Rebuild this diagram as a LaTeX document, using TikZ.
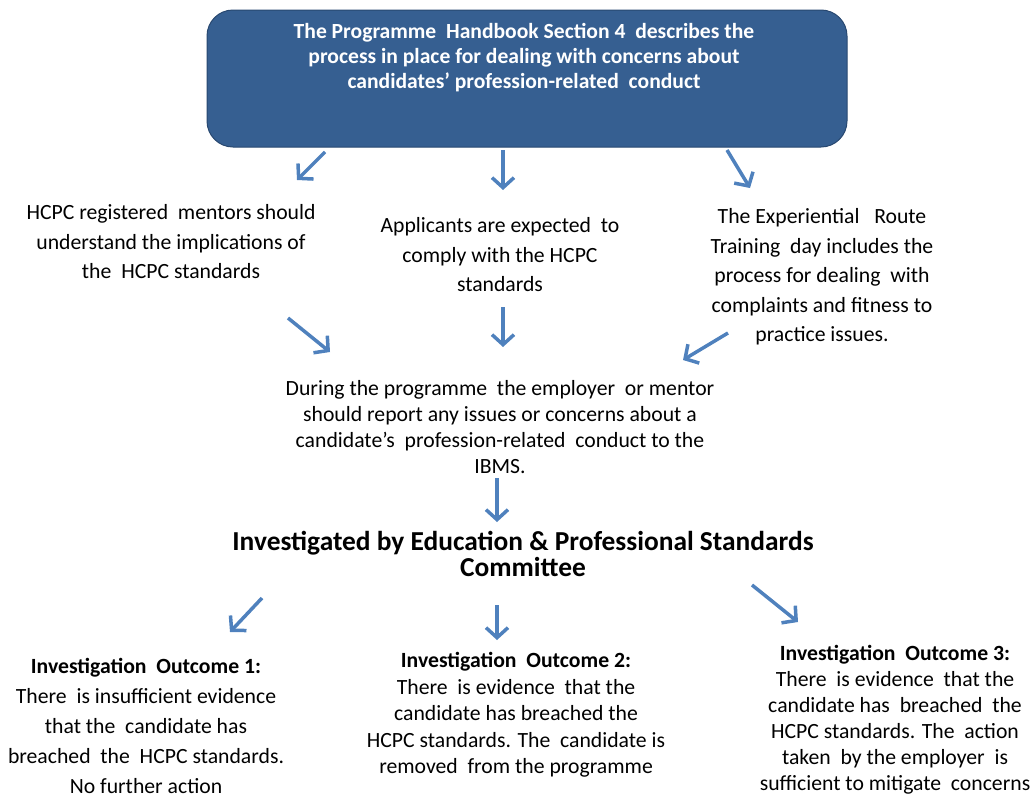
\documentclass[tikz,border=0pt]{standalone}
\usepackage{fontspec}
\setmainfont{Carlito}
\usetikzlibrary{arrows.meta}
\definecolor{boxblue}{RGB}{54,95,145}
\definecolor{boxedge}{RGB}{40,72,112}
\definecolor{arrblue}{RGB}{79,129,189}
\tikzset{
  topbox/.style={draw=boxedge, line width=1pt, fill=boxblue, rounded corners=26pt, minimum width=640pt, minimum height=137pt, inner sep=0pt},
  boxtext/.style={align=center, inner sep=0pt, text=white, font=\fontsize{21.6}{25}\selectfont\bfseries},
  bodytext/.style={align=center, inner sep=0pt, font=\fontsize{21.7}{29.5}\selectfont},
  midtext/.style={align=center, inner sep=0pt, font=\fontsize{21.7}{26}\selectfont},
  headtext/.style={align=center, inner sep=0pt, font=\fontsize{27.4}{26}\selectfont\bfseries},
  flowarrow/.style={draw=arrblue, line width=3.5pt, -{Straight Barb[length=10pt,width=22pt,line width=3.5pt]}},
}
\begin{document}
\begin{tikzpicture}[x=1pt,y=-1pt]
\useasboundingbox (0,0) rectangle (1034,798);
\node[topbox] (top) at (527,78.5) {};
\node[boxtext] (toptext) at (524,58) {The Programme\ \ Handbook Section 4\ \ describes the\\process in place for dealing with concerns about\\candidates' profession-related\ \ conduct};

\node[bodytext] (mentors) at (171,242) {HCPC registered\ \ mentors should\\understand the implications of\\the\ \ HCPC standards};
\node[bodytext] (applicants) at (500,255) {Applicants are expected\ \ to\\comply with the HCPC\\standards};
\node[bodytext] (training) at (822,277) {The Experiential\ \ \ Route\\Training\ \ day includes the\\process for dealing\ \ with\\complaints and fitness to\\practice issues.};

\node[midtext] (during) at (500,427) {During the programme\ \ the employer\ \ or mentor\\should report any issues or concerns about a\\candidate's\ \ profession-related\ \ conduct to the\\IBMS.};

\node[headtext] (committee) at (523,554) {Investigated by Education \& Professional Standards\\Committee};

\node[align=center, inner sep=0pt, font=\fontsize{21.7}{30}\selectfont] (out1) at (146,726) {\textbf{Investigation\ \ Outcome 1:}\\There\ \ is insufficient evidence\\that the\ \ candidate has\\breached\ \ the\ \ HCPC standards.\\No further action};
\node[midtext, font=\fontsize{21.7}{26.5}\selectfont] (out2) at (516,715) {\textbf{Investigation\ \ Outcome 2:}\\There\ \ is evidence\ \ that the\\candidate has breached the\\HCPC standards. The\ \ candidate is\\removed\ \ from the programme};
\node[midtext] (out3) at (895,720) {\textbf{Investigation\ \ Outcome 3:}\\There\ \ is evidence\ \ that the\\candidate has\ \ breached\ \ the\\HCPC standards. The\ \ action\\taken\ \ by the employer\ \ is\\sufficient to mitigate\ \ concerns};

% arrow end points
\coordinate (a1s) at (325,152); \coordinate (a1e) at (297,180);
\coordinate (a2s) at (503,150); \coordinate (a2e) at (503,190);
\coordinate (a3s) at (727,150); \coordinate (a3e) at (750,188);
\coordinate (b1s) at (288,318); \coordinate (b1e) at (330,352);
\coordinate (b2s) at (503,307); \coordinate (b2e) at (503,347);
\coordinate (b3s) at (728,333); \coordinate (b3e) at (683,360);
\coordinate (cs) at (497,478); \coordinate (ce) at (497,522);
\coordinate (d1s) at (262,598); \coordinate (d1e) at (230,632);
\coordinate (d2s) at (497,605); \coordinate (d2e) at (497,640);
\coordinate (d3s) at (752,585); \coordinate (d3e) at (798,622);

\foreach \p in {a1,a2,a3,b1,b2,b3,c,d1,d2,d3}
  \draw[flowarrow] (\p s) -- (\p e);
\end{tikzpicture}
\end{document}
